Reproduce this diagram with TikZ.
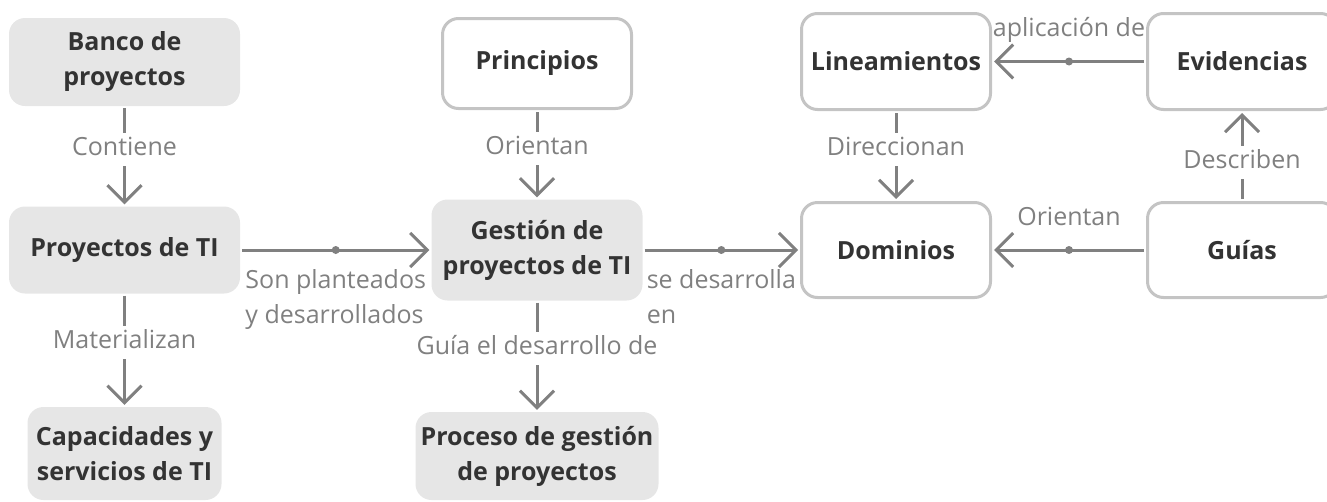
\documentclass[tikz,border=0pt]{standalone}
\usepackage{fontspec}
\setmainfont{Open Sans}
\usepackage{xcolor}
\usetikzlibrary{arrows.meta}
\definecolor{boxgray}{HTML}{E6E6E6}
\definecolor{rimgray}{HTML}{C4C4C4}
\definecolor{linkgray}{HTML}{808080}
\definecolor{textdark}{HTML}{333333}
\tikzset{
    concept/.style={rounded corners=16pt, align=center, text=textdark,
        font=\fontsize{25pt}{35pt}\selectfont\bfseries},
    filled/.style={concept, fill=boxgray},
    framed/.style={concept, fill=white, draw=rimgray, line width=3pt},
    link/.style={draw=linkgray, line width=3pt,
        -{Straight Barb[length=17pt,width=34pt]}, shorten <=2pt, shorten >=2pt},
    verb/.style={text=linkgray, font=\fontsize{25pt}{35pt}\selectfont, fill=white,
        inner xsep=2pt, inner ysep=5.5pt, text height=17pt, text depth=5pt},
    verbside/.style={text=linkgray, font=\fontsize{25pt}{35pt}\selectfont,
        align=left, inner sep=0pt},
    joint/.style={circle, fill=linkgray, inner sep=0pt, minimum size=8pt}
}

\begin{document}
\begin{tikzpicture}[x=1pt, y=-1pt]
\useasboundingbox (0,0) rectangle (1327,501);
\node[filled, minimum width=231pt, minimum height=88pt] (banco) at (124.5,62) {Banco de\\proyectos};
\node[filled, minimum width=231pt, minimum height=87pt] (proyectos) at (124.5,250) {Proyectos de TI};
\node[filled, minimum width=194pt, minimum height=93pt] (capacidades) at (124.5,453.5) {Capacidades y\\servicios de TI};
\node[framed, minimum width=189pt, minimum height=90pt] (principios) at (537,63.5) {Principios};
\node[filled, minimum width=211pt, minimum height=101pt] (gestion) at (537,250) {Gestión de\\proyectos de TI};
\node[filled, minimum width=243pt, minimum height=88pt] (proceso) at (537,456) {Proceso de gestión\\de proyectos};
\node[framed, minimum width=189pt, minimum height=96pt] (lineamientos) at (896,61.5) {Lineamientos};
\node[framed, minimum width=189pt, minimum height=95pt] (dominios) at (896,250) {Dominios};
\node[framed, minimum width=189pt, minimum height=96pt] (evidencias) at (1242,61.5) {Evidencias};
\node[framed, minimum width=189pt, minimum height=95pt] (guias) at (1242,250) {Guías};

\draw
    (banco) edge[link] node[verb, pos=0.43] {Contiene} (proyectos)
    (proyectos) edge[link] node[verb, pos=0.43] {Materializan} (capacidades)
    (principios) edge[link] node[verb, pos=0.43] {Orientan} (gestion)
    (gestion) edge[link] node[verb, pos=0.43] {Guía el desarrollo de} (proceso)
    (lineamientos) edge[link] node[verb, pos=0.43] {Direccionan} (dominios)
    (guias) edge[link] node[verb, pos=0.43] {Describen} (evidencias)
    (proyectos) edge[link] node[joint, midway] {}
        node[verbside, midway, anchor=north, yshift=-18pt] {Son planteados\\y desarrollados} (gestion)
    (gestion) edge[link] node[joint, midway] {}
        node[verbside, midway, anchor=north, yshift=-18pt] {se desarrolla\\en} (dominios)
    (evidencias) edge[link] node[joint, midway] {}
        node[verbside, midway, anchor=base, yshift=25pt] {aplicación de} (lineamientos)
    (guias) edge[link] node[joint, midway] {}
        node[verbside, midway, anchor=base, yshift=25pt] {Orientan} (dominios);
\end{tikzpicture}
\end{document}
